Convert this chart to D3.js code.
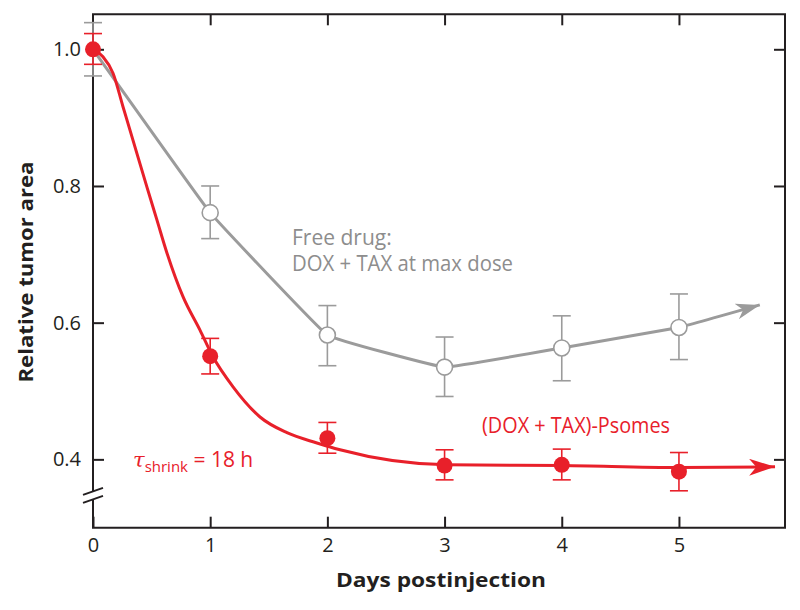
<!DOCTYPE html>
<html>
<head>
<meta charset="utf-8">
<script src="https://cdn.jsdelivr.net/npm/d3@7"></script>
<style>
  html, body { margin: 0; padding: 0; background: #fff; }
  svg { display: block; font-family: "Open Sans", "Noto Sans", sans-serif; }
</style>
</head>
<body>
<svg id="chart" width="800" height="610"></svg>
<script>
// ---------- data ----------
const days = [0, 1, 2, 3, 4, 5];
const freeDrug     = [1.000, 0.761, 0.582, 0.535, 0.563, 0.593];
const freeDrugLow  = [0.961, 0.723, 0.537, 0.492, 0.515, 0.546];
const freeDrugHigh = [1.039, 0.800, 0.625, 0.579, 0.610, 0.642];
const freeArrowTip = [5.69, 0.626];

const psomes     = [1.000, 0.551, 0.431, 0.391, 0.392, 0.382];
const psomesLow  = [0.978, 0.525, 0.409, 0.370, 0.370, 0.354];
const psomesHigh = [1.023, 0.577, 0.454, 0.414, 0.415, 0.410];

// fitted shrink curve
const fitT = [0, 0.085, 0.171, 0.256, 0.341, 0.461, 0.546, 0.631, 0.768, 0.913, 1.024, 1.195, 1.425, 1.655, 1.911, 2.108, 3.02, 4.01, 5.01, 5.82];
const fitV = [1.000, 0.989, 0.965, 0.916, 0.867, 0.798, 0.750, 0.702, 0.638, 0.589, 0.550, 0.506, 0.462, 0.439, 0.424, 0.414, 0.392, 0.391, 0.388, 0.389];

const xTicks = [0, 1, 2, 3, 4, 5];
const yTicks = [0.4, 0.6, 0.8, 1.0];
const xDomain = [0, 5.905];
const yDomain = [0.3, 1.0512];
const yBreak = [0.3415, 0.3532];

const xTitle = "Days postinjection";
const yTitle = "Relative tumor area";
const freeLabel = ["Free drug:", "DOX + TAX at max dose"];
const psomeLabel = "(DOX + TAX)-Psomes";

// ---------- styles ----------
const RED = "#e8202a";
const GRAY = "#9b9b9b";
const GRAY_TEXT = "#8d8d8d";
const INK = "#231f20";

const svg = d3.select("#chart");
const L = 93, R = 785, T = 14.3, B = 527.7;

const x = d3.scaleLinear().domain(xDomain).range([L, R]);
const y = d3.scaleLinear().domain(yDomain).range([B, T]);

// ---------- axes ----------
const fmt = d3.format(".1f");
const gLeft = svg.append("g").attr("transform", `translate(${L},0)`)
  .call(d3.axisLeft(y).tickValues(yTicks).tickFormat(fmt).tickSize(-11).tickPadding(12).tickSizeOuter(0));
const gBottom = svg.append("g").attr("transform", `translate(0,${B})`)
  .call(d3.axisBottom(x).tickValues(xTicks).tickFormat(d3.format("d")).tickSize(-11).tickPadding(10).tickSizeOuter(0));
const gTop = svg.append("g").attr("transform", `translate(0,${T})`)
  .call(d3.axisTop(x).tickValues(xTicks.slice(1)).tickFormat("").tickSize(-11).tickSizeOuter(0));
const gRight = svg.append("g").attr("transform", `translate(${R},0)`)
  .call(d3.axisRight(y).tickValues(yTicks).tickFormat("").tickSize(-11).tickSizeOuter(0));

[gLeft, gBottom, gTop, gRight].forEach(g => {
  g.select(".domain").remove();
  g.selectAll(".tick line").attr("stroke", INK).attr("stroke-width", 2);
  g.selectAll(".tick text").attr("fill", INK).attr("font-size", 20)
    .attr("font-family", "'Open Sans', sans-serif");
});

// frame with broken left axis
const frame = svg.append("g").attr("stroke", INK).attr("stroke-width", 2).attr("fill", "none");
frame.append("path").attr("d", `M${L},${y(yBreak[1])} L${L},${T} L${R},${T} L${R},${B} L${L},${B} L${L},${y(yBreak[0])}`);
yBreak.forEach(v => {
  const cy = y(v);
  frame.append("line").attr("x1", L - 10).attr("y1", cy + 3.5).attr("x2", L + 10).attr("y2", cy - 3.5)
    .attr("stroke-width", 2);
});

// ---------- arrow markers ----------
const defs = svg.append("defs");
function marker(id, color, len, half) {
  defs.append("marker").attr("id", id)
    .attr("markerUnits", "userSpaceOnUse")
    .attr("viewBox", `${-len} ${-half} ${len + 1} ${2 * half}`)
    .attr("refX", 0).attr("refY", 0)
    .attr("markerWidth", len + 1).attr("markerHeight", 2 * half)
    .attr("orient", "auto")
    .append("path")
    .attr("d", `M${-len},${-half} L0,0 L${-len},${half} L${-len * 0.72},0 Z`)
    .attr("fill", color);
}
marker("arrGray", GRAY, 24, 8);
marker("arrRed", RED, 26, 8.5);

// ---------- free drug series ----------
const freePts = days.map((d, i) => [d, freeDrug[i]]).concat([freeArrowTip]);
const gFree = svg.append("g");
gFree.selectAll("line.err").data(days).join("line")
  .attr("x1", d => x(d)).attr("x2", d => x(d))
  .attr("y1", (d, i) => y(freeDrugLow[i])).attr("y2", (d, i) => y(freeDrugHigh[i]))
  .attr("stroke", GRAY).attr("stroke-width", 1.6);
[freeDrugLow, freeDrugHigh].forEach(arr => {
  gFree.append("g").selectAll("line").data(days).join("line")
    .attr("x1", d => x(d) - 9).attr("x2", d => x(d) + 9)
    .attr("y1", (d, i) => y(arr[i])).attr("y2", (d, i) => y(arr[i]))
    .attr("stroke", GRAY).attr("stroke-width", 1.6);
});
gFree.append("path").datum(freePts)
  .attr("d", d3.line().x(d => x(d[0])).y(d => y(d[1])).curve(d3.curveCardinal.tension(0.8)))
  .attr("fill", "none").attr("stroke", GRAY).attr("stroke-width", 3)
  .attr("marker-end", "url(#arrGray)");
gFree.selectAll("circle").data(days.slice(1)).join("circle")
  .attr("cx", d => x(d)).attr("cy", (d, i) => y(freeDrug[i + 1]))
  .attr("r", 8).attr("fill", "#fff").attr("stroke", GRAY).attr("stroke-width", 1.6);

// ---------- psomes series ----------
const gRed = svg.append("g");
gRed.selectAll("line.err").data(days).join("line")
  .attr("x1", d => x(d)).attr("x2", d => x(d))
  .attr("y1", (d, i) => y(psomesLow[i])).attr("y2", (d, i) => y(psomesHigh[i]))
  .attr("stroke", RED).attr("stroke-width", 1.6);
[psomesLow, psomesHigh].forEach(arr => {
  gRed.append("g").selectAll("line").data(days).join("line")
    .attr("x1", d => x(d) - 9).attr("x2", d => x(d) + 9)
    .attr("y1", (d, i) => y(arr[i])).attr("y2", (d, i) => y(arr[i]))
    .attr("stroke", RED).attr("stroke-width", 1.6);
});
const fitPts = fitT.map((t, i) => [t, fitV[i]]);
gRed.append("path").datum(fitPts)
  .attr("d", d3.line().x(d => x(d[0])).y(d => y(d[1])).curve(d3.curveMonotoneX))
  .attr("fill", "none").attr("stroke", RED).attr("stroke-width", 3)
  .attr("marker-end", "url(#arrRed)");
gRed.selectAll("circle").data(days).join("circle")
  .attr("cx", d => x(d)).attr("cy", (d, i) => y(psomes[i]))
  .attr("r", 8).attr("fill", RED);

// ---------- labels ----------
const free = svg.append("text").attr("fill", GRAY_TEXT).attr("font-size", 21);
free.append("tspan").attr("x", 292).attr("y", 245).text(freeLabel[0]);
free.append("tspan").attr("x", 292).attr("y", 271).text(freeLabel[1])
  .attr("textLength", 221).attr("lengthAdjust", "spacingAndGlyphs");

svg.append("text").attr("x", 482).attr("y", 433).attr("fill", RED).attr("font-size", 21)
  .attr("textLength", 188).attr("lengthAdjust", "spacingAndGlyphs")
  .text(psomeLabel);

const tau = svg.append("text").attr("x", 133).attr("y", 467).attr("fill", RED).attr("font-size", 21);
tau.append("tspan").attr("font-style", "italic").attr("font-family", "'DejaVu Serif', serif").text("τ");
tau.append("tspan").attr("font-size", 15).attr("dy", 5).text("shrink");
tau.append("tspan").attr("dy", -5).text(" = 18 h");

svg.append("text").attr("x", 441).attr("y", 587).attr("text-anchor", "middle")
  .attr("font-size", 20).attr("font-weight", 700).attr("fill", INK)
  .attr("textLength", 210).attr("lengthAdjust", "spacingAndGlyphs")
  .text(xTitle);
svg.append("text").attr("transform", "translate(33,272) rotate(-90)").attr("text-anchor", "middle")
  .attr("font-size", 20).attr("font-weight", 700).attr("fill", INK)
  .attr("textLength", 221).attr("lengthAdjust", "spacingAndGlyphs")
  .text(yTitle);
</script>
</body>
</html>
